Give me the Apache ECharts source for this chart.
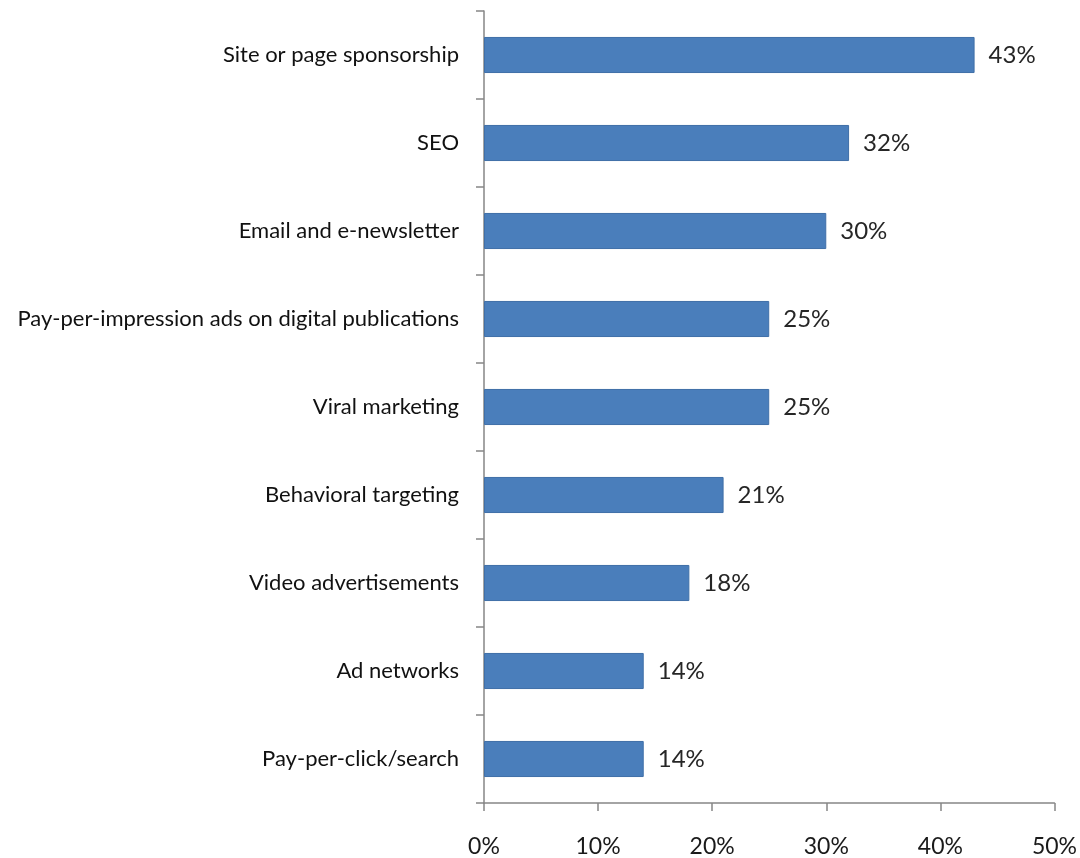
<!DOCTYPE html>
<html>
<head>
<meta charset="utf-8">
<script src="https://cdn.jsdelivr.net/npm/echarts@6/dist/echarts.min.js"></script>
<style>
  html, body { margin: 0; padding: 0; background: #fff; }
  #chart { width: 1080px; height: 858px; }
</style>
</head>
<body>
<div id="chart"></div>
<script>
// Online tactics, share of respondents (%), top to bottom
const categories = [
  'Site or page sponsorship',
  'SEO',
  'Email and e-newsletter',
  'Pay-per-impression ads on digital publications',
  'Viral marketing',
  'Behavioral targeting',
  'Video advertisements',
  'Ad networks',
  'Pay-per-click/search'
];
const values = [43, 32, 30, 25, 25, 21, 18, 14, 14];
const xTicks = [0, 10, 20, 30, 40, 50];

const FONT = 'Lato, "Open Sans", sans-serif';
const AXIS_COLOR = '#868686';

const chart = echarts.init(document.getElementById('chart'));
chart.setOption({
  animation: false,
  grid: { left: 484, right: 22, top: 11, bottom: 52, containLabel: false },
  xAxis: {
    type: 'value',
    min: xTicks[0],
    max: xTicks[xTicks.length - 1],
    interval: xTicks[1] - xTicks[0],
    axisLine: { show: true, lineStyle: { color: AXIS_COLOR, width: 1.5 } },
    axisTick: { show: true, length: 8, lineStyle: { color: AXIS_COLOR, width: 1.5 } },
    splitLine: { show: false },
    axisLabel: {
      formatter: '{value}%',
      color: '#1a1a1a',
      fontSize: 23,
      fontFamily: FONT,
      margin: 32
    }
  },
  yAxis: {
    type: 'category',
    data: categories,
    inverse: true,
    axisLine: { show: true, lineStyle: { color: AXIS_COLOR, width: 1.5 } },
    axisTick: { show: true, length: 8, alignWithLabel: false, lineStyle: { color: AXIS_COLOR, width: 1.5 } },
    axisLabel: {
      color: '#111111',
      fontSize: 22,
      fontFamily: FONT,
      margin: 25
    }
  },
  series: [{
    type: 'bar',
    data: values,
    barWidth: '41%',
    itemStyle: { color: '#4a7ebb', borderColor: '#3f6fa8', borderWidth: 1 },
    label: {
      show: true,
      position: 'right',
      distance: 14,
      formatter: '{c}%',
      color: '#262626',
      fontSize: 24,
      fontFamily: FONT
    }
  }]
});
</script>
</body>
</html>
